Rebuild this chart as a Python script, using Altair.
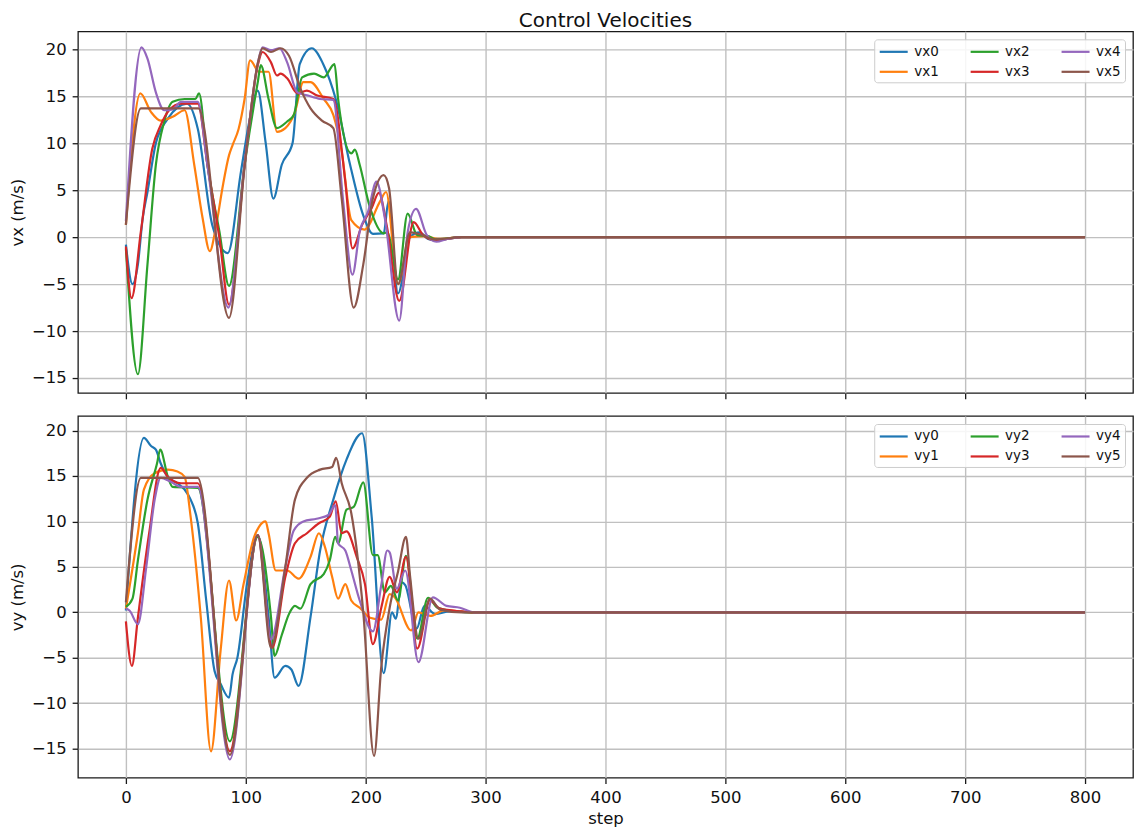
import altair as alt
import pandas as pd

# ---------------- top panel: vx (m/s) ----------------
vx0_step = [0, 5.5, 10, 14, 18, 25, 35, 51, 60, 72, 85, 96, 104, 110, 116.5, 123, 130, 139, 145, 155, 165, 175, 187, 198, 206, 215, 219, 227, 237, 245, 252, 258, 280, 800]
vx0_val = [-0.8, -5, -2.9, 2, 4.8, 10, 12.6, 14.2, 11.5, 1.3, -1.7, 7, 13, 15.6, 10.1, 4.1, 7.7, 10, 18.4, 20.1, 18.3, 14.7, 7.7, 2.3, 0.35, 0.4, 3.8, -6, 0, 0.5, -0.2, -0.35, 0, 0]

vx1_step = [0, 12, 21, 29, 39, 49, 57, 64, 70, 75, 80.5, 86, 89, 94, 99, 103.6, 111, 119, 126, 133, 141, 148, 154, 165, 173, 180, 188, 199, 212, 217, 227, 237, 250, 260, 280, 800]
vx1_val = [1.3, 15.3, 13.3, 12.4, 12.8, 13.5, 7.7, 2, -1.5, 1, 5.2, 8.7, 9.8, 11.5, 14.7, 18.8, 17.6, 17.6, 11.2, 11.6, 13.3, 16.5, 16.5, 14.7, 13, 9.1, 1.8, 0.8, 3.8, 4.8, -5, 0, 0.1, -0.2, 0, 0]

vx2_step = [0, 10, 18, 25, 32, 39, 49, 58, 61, 68, 78, 86, 99, 110, 112.5, 119, 126, 134.5, 140, 147, 157, 165, 174, 177, 188, 191, 195, 203, 215, 218, 227, 235, 243, 252, 258, 280, 800]
vx2_val = [-1.2, -14.6, -2.9, 7.7, 12.3, 14.4, 14.7, 14.7, 15.3, 7.7, 0.6, -5.2, 7.7, 16.5, 18.3, 14.7, 11.6, 12.3, 13, 17, 17.4, 17, 18.4, 14.7, 8.9, 9.3, 7.7, 3.4, 0.4, 0.5, -4.5, 2.5, 0.2, 0.1, -0.25, 0, 0]

vx3_step = [0, 4.7, 12.5, 22, 29, 36, 46, 60, 68, 78, 86, 99, 110, 114, 121, 126, 129, 134.5, 143, 151, 159, 173, 183, 189, 197, 205, 211, 217.5, 228, 240, 248, 258, 280, 800]
vx3_val = [-1, -6.5, 0.6, 9.4, 11.9, 13.5, 14.2, 14.2, 7.7, -0.1, -7.2, 7.7, 18.3, 19.7, 18.6, 17.2, 17.4, 16.9, 15.3, 15.6, 15.1, 14.7, 5.9, -1.2, 1.3, 3.1, 4.7, 1.25, -6.8, 1.6, 0.2, -0.35, 0, 0]

vx4_step = [0, 13, 18, 25, 32, 39, 46, 60, 68, 85.5, 99, 110, 114, 121, 128, 134.5, 143, 151, 162, 173, 181, 189, 195, 202, 209, 216, 228, 235, 242, 251, 259, 268, 280, 800]
vx4_val = [1.7, 20.2, 19, 15.4, 13.5, 13.6, 14.4, 14.4, 7.7, -7.5, 7.7, 18.5, 20.2, 19.9, 20.1, 18.6, 15.4, 15.1, 14.7, 14.6, 4.1, -4, 0.6, 2.7, 5.9, 2, -8.9, 0.5, 3, 0.2, -0.5, -0.2, 0, 0]

vx5_step = [0, 12.5, 60.5, 86, 99, 110, 114, 121, 129, 136, 145.6, 154, 163.5, 173, 180, 190, 198, 206, 215, 219.5, 227, 237, 245, 258, 280, 800]
vx5_val = [1.3, 13.7, 13.7, -8.6, 7.5, 18.5, 20.1, 19.7, 20.1, 19.3, 15.8, 13.7, 12.4, 11.6, 4.1, -7.5, -2.9, 4.1, 6.6, 5.2, -5, 0.5, 0.3, -0.25, 0, 0]

# ---------------- bottom panel: vy (m/s) ----------------
vy0_step = [0, 15, 21, 25, 29, 35, 43, 49, 54, 60, 67, 74, 79, 86, 89, 93, 101, 110, 119, 124, 133, 138, 144, 154, 162, 173, 184, 197, 205, 215, 222, 225, 230, 233, 242.5, 249, 258, 270, 290, 800]
vy0_val = [0.2, 19.2, 18.3, 17.9, 16.4, 14.9, 14.2, 13.5, 12.4, 9.8, 1.3, -6.5, -7.9, -9.4, -6.8, -5, 3.1, 8.5, -0.5, -7.2, -5.9, -6.3, -8.1, -0.5, 6.8, 12.4, 16.8, 19.7, 10.5, -6.7, 0, -0.7, 3.3, 3, -1.8, 0.7, -0.2, 0.1, 0, 0]

vy1_step = [0, 10, 15, 24, 35, 43, 49, 54, 62.5, 71, 79, 86, 92, 98, 107, 111, 116.5, 119, 125, 134.5, 144, 154, 161, 166, 172, 177, 183, 188, 195, 203.6, 213, 220, 224, 238, 244, 254, 265, 290, 800]
vy1_val = [0.4, 8.7, 13.5, 15.3, 15.7, 15.5, 14.9, 10.5, -0.6, -15.3, -4.2, 3.5, -0.9, 3, 8.3, 9.4, 10, 8.7, 4.6, 4.6, 3.7, 6.1, 8.7, 7.2, 3.9, 1.5, 3.1, 1.3, 0.5, -0.6, -0.8, 2, 1.7, -2, 0, -0.4, 0.2, 0, 0]

vy2_step = [0, 5.5, 10, 18, 26, 28.6, 35, 39, 60, 86.7, 110, 121, 124, 130, 136, 141, 145.6, 154, 165, 170, 174.6, 177, 184, 190, 198, 206, 210, 216, 221, 227, 233.6, 243, 252, 260, 275, 290, 800]
vy2_val = [0.6, 1.5, 5.7, 12.4, 16.4, 17.9, 14.9, 13.8, 13.7, -14.2, 8.3, -0.5, -4.8, -2.5, -0.2, 0.7, 0.4, 3.1, 4.2, 5.7, 8.3, 7.6, 11.3, 11.6, 14.3, 6.3, 6.3, 2.2, 2.9, 1.3, 6.2, -2.9, 1.6, 0.5, 0.1, 0, 0]

vy3_step = [0, 5, 10, 19.4, 29, 35, 46, 60, 86.7, 110, 122, 133, 141, 151, 161, 170, 175, 180, 184, 192.5, 199.4, 206, 213, 220, 226, 233.6, 243, 253.6, 262, 280, 290, 800]
vy3_val = [-1, -5.9, -0.6, 8.7, 15.9, 14.9, 14.2, 14.2, -15.3, 8.5, -3.9, 3.9, 7.6, 8.7, 9.8, 10.5, 12.2, 8.7, 8.9, 6.1, 3.1, -3.5, 0.5, 3.9, 2.2, 6.1, -4, 1.3, 0.4, 0.1, 0, 0]

vy4_step = [0, 3, 10, 17, 24, 29, 37, 46, 60, 86.7, 110, 121, 133, 140, 148, 159, 169, 174.6, 177, 183, 188, 195, 206, 213, 218, 220, 226, 233, 244, 256, 267.5, 278.6, 290, 800]
vy4_val = [0.4, 0.2, -1.3, 5, 12.4, 14.8, 14.4, 13.8, 13.8, -16.2, 8.5, -3, 5, 9, 10, 10.3, 10.7, 11.8, 7.6, 6.8, 4.6, 1.3, -2.1, 3, 6.8, 6.6, 2.6, 4.6, -5.5, 1.65, 0.7, 0.5, 0, 0]

vy5_step = [0, 12.5, 60, 86.7, 110, 121, 133, 141, 151, 162, 172, 175.4, 180, 188, 198, 207, 213, 220, 227, 233.6, 237, 244, 253.6, 262, 280, 800]
vy5_val = [1.1, 14.8, 14.8, -15.7, 8.5, -3.9, 5, 12.4, 14.8, 15.7, 16, 17, 14.2, 10.9, 0, -15.8, -6, 0.5, 4.5, 8.3, 4, -2.9, 1.5, 0.3, 0, 0]

tab_colors = ["#1f77b4", "#ff7f0e", "#2ca02c", "#d62728", "#9467bd", "#8c564b"]
x_ticks = [0, 100, 200, 300, 400, 500, 600, 700, 800]
y_ticks = [-15, -10, -5, 0, 5, 10, 15, 20]


def long_table(prefix, steps, vals):
    rows = []
    for i, (s_list, v_list) in enumerate(zip(steps, vals)):
        for s, v in zip(s_list, v_list):
            rows.append({"step": s, "value": v, "series": f"{prefix}{i}", "k": i})
    return pd.DataFrame(rows)


df_x = long_table("vx", [vx0_step, vx1_step, vx2_step, vx3_step, vx4_step, vx5_step],
                  [vx0_val, vx1_val, vx2_val, vx3_val, vx4_val, vx5_val])
df_y = long_table("vy", [vy0_step, vy1_step, vy2_step, vy3_step, vy4_step, vy5_step],
                  [vy0_val, vy1_val, vy2_val, vy3_val, vy4_val, vy5_val])

W = 1056
H = 362


def panel(df, prefix, ytitle, ydomain, show_x_labels):
    dom = [f"{prefix}{i}" for i in range(6)]
    xaxis = alt.Axis(values=x_ticks, grid=True, labels=show_x_labels,
                     title="step" if show_x_labels else None, format="d")
    return alt.Chart(df).mark_line(interpolate="monotone", strokeWidth=2.2).encode(
        x=alt.X("step:Q", scale=alt.Scale(domain=[-40, 840], nice=False, zero=False), axis=xaxis),
        y=alt.Y("value:Q", scale=alt.Scale(domain=ydomain, nice=False, zero=False),
                axis=alt.Axis(values=y_ticks, grid=True, title=ytitle, format="d")),
        color=alt.Color("series:N", scale=alt.Scale(domain=dom, range=tab_colors),
                        legend=alt.Legend(title=None, orient="top-right", columns=3, offset=8,
                                          symbolType="M-2,0H2", symbolSize=196, symbolStrokeWidth=2.2,
                                          symbolOffset=7, labelOffset=12,
                                          labelFontSize=13.5, labelFont="DejaVu Sans", labelColor="#111",
                                          columnPadding=27, rowPadding=5,
                                          fillColor="rgba(255,255,255,0.85)", strokeColor="#cccccc",
                                          cornerRadius=3, padding=4)),
        detail="k:N",
        order=alt.Order("step:Q"),
    ).properties(width=W, height=H)


top = panel(df_x, "vx", "vx (m/s)", [-16.6, 21.9], False).properties(
    title=alt.TitleParams("Control Velocities", fontSize=20, font="DejaVu Sans", fontWeight="normal",
                          anchor="middle", frame="group", offset=0, color="#111"))
bottom = panel(df_y, "vy", "vy (m/s)", [-18.2, 21.6], True)

chart = alt.vconcat(top, bottom, spacing=14).resolve_scale(color="independent").resolve_legend(
    color="independent"
).properties(
    padding={"left": 0, "right": 0, "top": 2, "bottom": 0}
).configure_view(
    stroke="#1a1a1a", strokeWidth=1.3
).configure_axis(
    labelFont="DejaVu Sans", labelFontSize=16.5, labelColor="#111",
    titleFont="DejaVu Sans", titleFontSize=16.5, titleFontWeight="normal", titleColor="#111",
    tickColor="#1a1a1a", tickSize=5.8, tickWidth=1.3, domain=False,
    gridColor="#c0c0c0", gridWidth=1.4, labelPadding=6
).configure_axisY(
    titlePadding=6
).configure_axisX(
    titlePadding=5
)

chart.save("out.html", embed_options={"renderer": "svg", "actions": False})
